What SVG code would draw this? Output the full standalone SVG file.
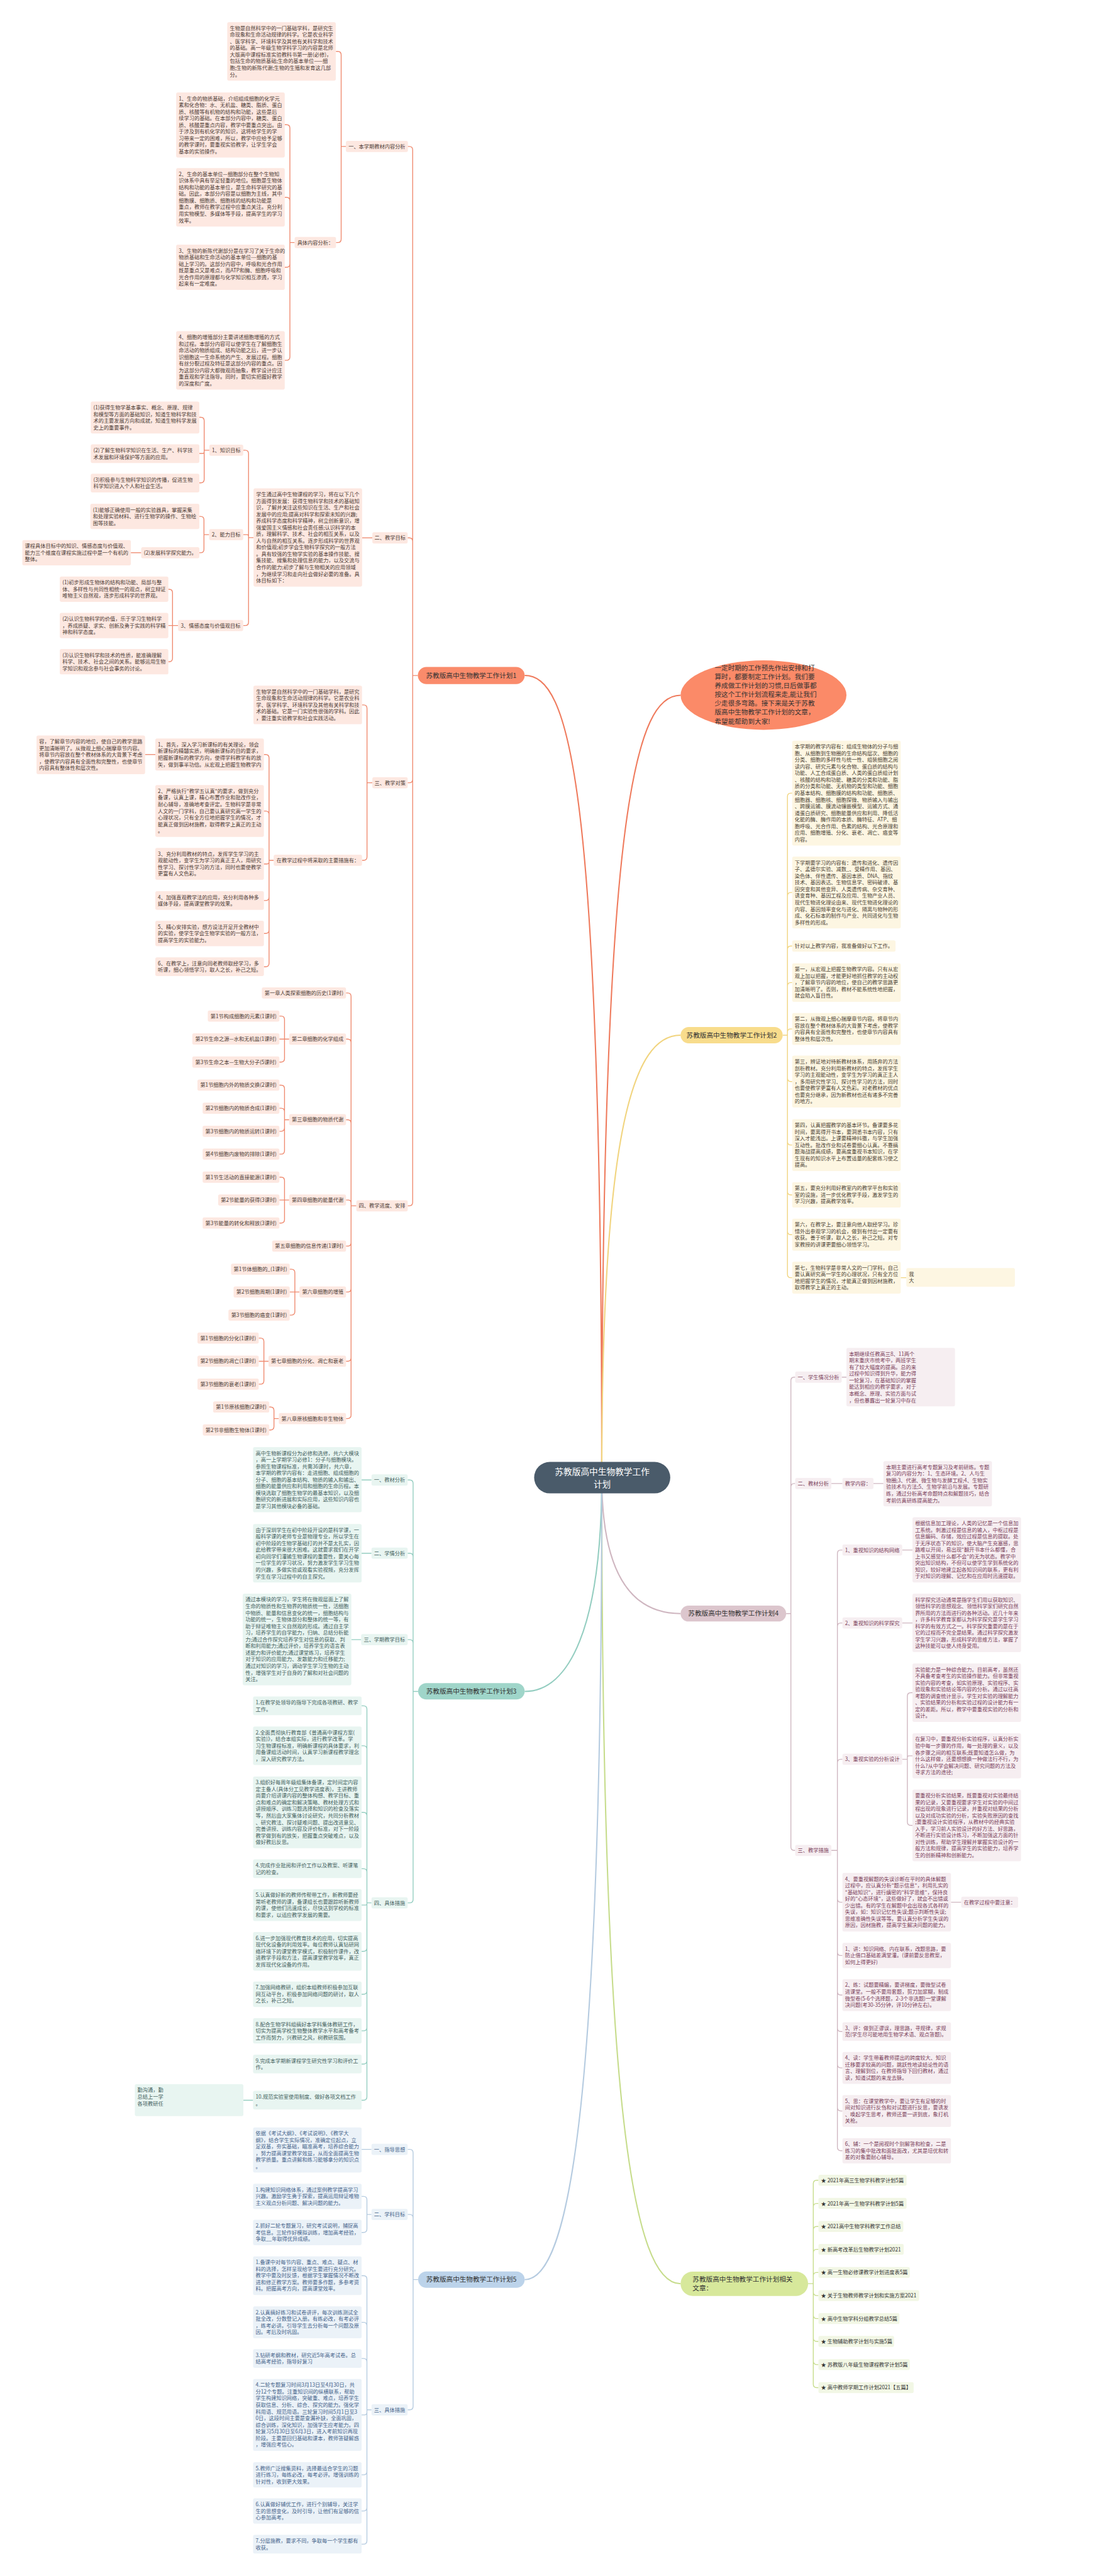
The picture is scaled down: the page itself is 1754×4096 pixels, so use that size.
<svg xmlns="http://www.w3.org/2000/svg" width="1754" height="4096" viewBox="0 0 1754 4096">
<style>
text{font-family:"Noto Sans CJK SC","Noto Sans",sans-serif}
.s{font-size:12px}.m{font-size:15.5px}.c{font-size:20px;fill:#fff}
.mid{text-anchor:middle}
.to{fill:#4b3a34}.ty{fill:#4a4132}.tp{fill:#7a3d59}.tt{fill:#43605d}.tb{fill:#44628a}.tg{fill:#333}.tk{fill:#333}
.bo{fill:#fde8e1}.by{fill:#fdf6e2}.bp{fill:#f6eef1}.bt{fill:#e8f5f1}.bb{fill:#ebf2f8}.bg{fill:#f2f7e5}
.l{fill:none;stroke-width:2}
.lo{stroke:#ef8a6f}.ly{stroke:#f1d47e}.lp{stroke:#cfb6c0}.lt{stroke:#93cdc0}.lb{stroke:#b5cbe0}.lg{stroke:#c6dc8b}
.main{fill:none;stroke-width:3}
</style>
<rect width="1754" height="4096" fill="#fff"/>
<g transform="scale(0.685)">
<g id="connectors">
<path class="main" stroke="#ef7a5c" d="M1397 3430C1397 1800 1320 1568 1218 1568"/>
<path class="main" stroke="#ef7a5c" d="M1397 3430C1397 1850 1480 1614 1580 1614"/>
<path class="main" stroke="#f1d47e" d="M1397 3430C1397 2620 1470 2403 1580 2403"/>
<path class="main" stroke="#cfb6c0" d="M1397 3430C1397 3660 1470 3745.6 1580 3745.6"/>
<path class="main" stroke="#c6dc8b" d="M1397 3430C1397 4900 1470 5301 1580 5301"/>
<path class="main" stroke="#93cdc0" d="M1397 3430C1397 3780 1320 3926.3 1218 3926.3"/>
<path class="main" stroke="#b5cbe0" d="M1397 3430C1397 4900 1320 5291.5 1218 5291.5"/>
<path class="l lo" d="M970 1568H958M958 1568V348Q958 340 950 340H946.5M958 1568V1256.5Q958 1248.5 950 1248.5H946.5M958 1568V1809Q958 1817 950 1817H946.5M958 1568V2791Q958 2799 950 2799H946.5"/>
<path class="l lo" d="M803 340H792M792 340V127.3Q792 119.3 784 119.3H780M792 340V555Q792 563 784 563H780"/>
<path class="l lo" d="M684 563H673M673 563V297.5Q673 289.5 665 289.5H661M673 563V466Q673 458 665 458H661M673 563V612.5Q673 620.5 665 620.5H661M673 563V828.4Q673 836.4 665 836.4H661"/>
<path class="l lo" d="M864.4 1248.5H840.6"/>
<path class="l lo" d="M588.6 1248H577M577 1248V1053Q577 1045 569 1045H564.6M577 1248V1244.5Q577 1241 573.5 1241H564.6M577 1248V1444Q577 1452 569 1452H564.6"/>
<path class="l lo" d="M486 1045H474M474 1045V976.7Q474 968.7 466 968.7H462.7M474 1045V1048.8Q474 1052.5 470.3 1052.5H462.7M474 1045V1112.8Q474 1120.8 466 1120.8H462.7"/>
<path class="l lo" d="M485.5 1241H473.5M473.5 1241V1206.7Q473.5 1198.7 465.5 1198.7H462.7M473.5 1241V1275Q473.5 1283 465.5 1283H462.7"/>
<path class="l lo" d="M327.8 1283H303.8"/>
<path class="l lo" d="M413.5 1452H400.5M400.5 1452V1375.8Q400.5 1367.8 392.5 1367.8H390.8M400.5 1452H390.8M400.5 1452V1528.1Q400.5 1536.1 392.5 1536.1H390.8"/>
<path class="l lo" d="M864.4 1817H852M852 1817V1644.4Q852 1636.4 844 1636.4H840.4M852 1817V1989Q852 1997 844 1997H840.4"/>
<path class="l lo" d="M635.4 1997H624.6M624.6 1997V1759.5Q624.6 1751.5 616.6 1751.5H612.6M624.6 1997V1890.6Q624.6 1882.6 616.6 1882.6H612.6M624.6 1997V2001.2Q624.6 2005.4 620.4 2005.4H612.6M624.6 1997V2082.3Q624.6 2090.3 616.6 2090.3H612.6M624.6 1997V2158.8Q624.6 2166.8 616.6 2166.8H612.6M624.6 1997V2236.1Q624.6 2244.1 616.6 2244.1H612.6"/>
<path class="l lo" d="M360.6 1751.5H336.8"/>
<path class="l lo" d="M827.2 2799H815M815 2799V2313Q815 2305 807 2305H803.3M815 2799V2420Q815 2412 807 2412H803.3M815 2799V2607.2Q815 2599.2 807 2599.2H803.3M815 2799V2792.3Q815 2785.5 808.3 2785.5H803.3M815 2799V2884.6Q815 2892.6 807 2892.6H803.3M815 2799V2991.1Q815 2999.1 807 2999.1H803.3M815 2799V3151.8Q815 3159.8 807 3159.8H803.3M815 2799V3284.8Q815 3292.8 807 3292.8H803.3"/>
<path class="l lo" d="M671.3 2412H660.5M660.5 2412V2366.5Q660.5 2358.5 652.5 2358.5H648.6M660.5 2412H648.6M660.5 2412V2457.3Q660.5 2465.3 652.5 2465.3H648.6"/>
<path class="l lo" d="M671.3 2599.2H660.5M660.5 2599.2V2526.9Q660.5 2518.9 652.5 2518.9H648.6M660.5 2599.2V2580.4Q660.5 2572.4 652.5 2572.4H648.6M660.5 2599.2V2618Q660.5 2626 652.5 2626H648.6M660.5 2599.2V2671Q660.5 2679 652.5 2679H648.6"/>
<path class="l lo" d="M671.3 2785.5H660.5M660.5 2785.5V2740.5Q660.5 2732.5 652.5 2732.5H648.6M660.5 2785.5H648.6M660.5 2785.5V2831Q660.5 2839 652.5 2839H648.6"/>
<path class="l lo" d="M695.3 2999.1H684.5M684.5 2999.1V2954.2Q684.5 2946.2 676.5 2946.2H672.5M684.5 2999.1H672.5M684.5 2999.1V3044.7Q684.5 3052.7 676.5 3052.7H672.5"/>
<path class="l lo" d="M623.3 3159.8H612.6M612.6 3159.8V3114Q612.6 3106 604.6 3106H600.6M612.6 3159.8H600.6M612.6 3159.8V3205Q612.6 3213 604.6 3213H600.6"/>
<path class="l lo" d="M647.3 3292.8H636M636 3292.8V3274Q636 3266 628 3266H625M636 3292.8V3311.3Q636 3319.3 628 3319.3H625"/>
<path class="l lt" d="M970.7 3926.3H959M959 3926.3V3443.4Q959 3435.4 951 3435.4H946.4M959 3926.3V3613.4Q959 3605.4 951 3605.4H946.4M959 3926.3V3814Q959 3806 951 3806H946.4M959 3926.3V4409Q959 4417 951 4417H946.4"/>
<path class="l lt" d="M862.4 3435.4H839.5M862.4 3605.4H839.5M838.4 3806H815.6M587.5 4875.1H565"/>
<path class="l lt" d="M862.4 4417H851.8M851.8 4417V3967.7Q851.8 3959.7 843.8 3959.7H839.5M851.8 4417V4060.4Q851.8 4052.4 843.8 4052.4H839.5M851.8 4417V4215Q851.8 4207 843.8 4207H839.5M851.8 4417V4345.7Q851.8 4337.7 843.8 4337.7H839.5M851.8 4417V4419.5Q851.8 4422 849.3 4422H839.5M851.8 4417V4521.6Q851.8 4529.6 843.8 4529.6H839.5M851.8 4417V4621.2Q851.8 4629.2 843.8 4629.2H839.5M851.8 4417V4706.1Q851.8 4714.1 843.8 4714.1H839.5M851.8 4417V4783.2Q851.8 4791.2 843.8 4791.2H839.5M851.8 4417V4867.1Q851.8 4875.1 843.8 4875.1H839.5"/>
<path class="l lb" d="M970.7 5291.5H959M959 5291.5V4997.3Q959 4989.3 951 4989.3H946.4M959 5291.5V5148.4Q959 5140.4 951 5140.4H946.4M959 5291.5V5585.8Q959 5593.8 951 5593.8H946.4M862.4 4989.3H839.5"/>
<path class="l lb" d="M862.4 5140.4H851.8M851.8 5140.4V5106.3Q851.8 5098.3 843.8 5098.3H839.5M851.8 5140.4V5174.1Q851.8 5182.1 843.8 5182.1H839.5"/>
<path class="l lb" d="M862.4 5593.8H851.8M851.8 5593.8V5290.4Q851.8 5282.4 843.8 5282.4H839.5M851.8 5593.8V5398.7Q851.8 5390.7 843.8 5390.7H839.5M851.8 5593.8V5482.7Q851.8 5474.7 843.8 5474.7H839.5M851.8 5593.8V5599.7Q851.8 5605.6 845.9 5605.6H839.5M851.8 5593.8V5736.8Q851.8 5744.8 843.8 5744.8H839.5M851.8 5593.8V5820.7Q851.8 5828.7 843.8 5828.7H839.5M851.8 5593.8V5897.7Q851.8 5905.7 843.8 5905.7H839.5"/>
<path class="l ly" d="M1817 2403H1828M1828 2403V1849Q1828 1841 1836 1841H1839M1828 2403V2079.8Q1828 2071.8 1836 2071.8H1839M1828 2403V2204Q1828 2196 1836 2196H1839M1828 2403V2288.8Q1828 2280.8 1836 2280.8H1839M1828 2403V2395.8Q1828 2388.5 1835.3 2388.5H1839M1828 2403V2502.5Q1828 2510.5 1836 2510.5H1839M1828 2403V2649.9Q1828 2657.9 1836 2657.9H1839M1828 2403V2765.7Q1828 2773.7 1836 2773.7H1839M1828 2403V2858.1Q1828 2866.1 1836 2866.1H1839M1828 2403V2957.9Q1828 2965.9 1836 2965.9H1839M2091 2965.9H2104"/>
<path class="l lp" d="M1825 3745.6H1836M1836 3745.6V3204.7Q1836 3196.7 1844 3196.7H1846M1836 3745.6V3451.6Q1836 3443.6 1844 3443.6H1846M1836 3745.6V4287.3Q1836 4295.3 1844 4295.3H1846M1954 3196.7H1965M1930 3443.6H1955.7M2027.7 3443.6H2050.8"/>
<path class="l lp" d="M1930 4295.3H1944M1944 4295.3V3606Q1944 3598 1952 3598H1955.7M1944 4295.3V3775.4Q1944 3767.4 1952 3767.4H1955.7M1944 4295.3V4091.7Q1944 4083.7 1952 4083.7H1955.7M1944 4295.3V4407.5Q1944 4415.5 1952 4415.5H1955.7M1944 4295.3V4531.3Q1944 4539.3 1952 4539.3H1955.7M1944 4295.3V4623.1Q1944 4631.1 1952 4631.1H1955.7M1944 4295.3V4707.7Q1944 4715.7 1952 4715.7H1955.7M1944 4295.3V4792.1Q1944 4800.1 1952 4800.1H1955.7M1944 4295.3V4892.1Q1944 4900.1 1952 4900.1H1955.7M1944 4295.3V4984.4Q1944 4992.4 1952 4992.4H1955.7"/>
<path class="l lp" d="M2094.4 3598H2118.3M2094.4 3767.4H2118.3M2094.4 4083.7H2106.4M2106.4 4083.7V3937.2Q2106.4 3929.2 2114.4 3929.2H2118.3M2106.4 4083.7V4079.7Q2106.4 4075.7 2110.4 4075.7H2118.3M2106.4 4083.7V4229.3Q2106.4 4237.3 2114.4 4237.3H2118.3M2207.7 4415.5H2231.5"/>
<path class="l lg" d="M1876 5301H1888M1888 5301V5069Q1888 5061 1896 5061H1900M1888 5301V5122.7Q1888 5114.7 1896 5114.7H1900M1888 5301V5176.3Q1888 5168.3 1896 5168.3H1900M1888 5301V5229.4Q1888 5221.4 1896 5221.4H1900M1888 5301V5283Q1888 5275 1896 5275H1900M1888 5301V5320.6Q1888 5328.6 1896 5328.6H1900M1888 5301V5374Q1888 5382 1896 5382H1900M1888 5301V5427Q1888 5435 1896 5435H1900M1888 5301V5480.8Q1888 5488.8 1896 5488.8H1900M1888 5301V5534.4Q1888 5542.4 1896 5542.4H1900"/>
</g>

<g id="n-center"><rect x="1240" y="3393.5" width="316" height="73" rx="36.5" fill="#4a5b6a"/><text class="c mid" x="1398" y="3423">苏教版高中生物教学工作</text><text class="c mid" x="1398" y="3452">计划</text></g>

<g id="n-bubble"><ellipse cx="1772.5" cy="1613.5" rx="192.5" ry="80.5" fill="#fb8a68"/><text class="m tk"><tspan x="1659" y="1555.5">一定时期的工作预先作出安排和打</tspan><tspan x="1659" dy="20.7">算时，都要制定工作计划。我们要</tspan><tspan x="1659" dy="20.7">养成做工作计划的习惯,日后做事都</tspan><tspan x="1659" dy="20.7">按这个工作计划流程来走,能让我们</tspan><tspan x="1659" dy="20.7">少走很多弯路。接下来是关于苏教</tspan><tspan x="1659" dy="20.7">版高中生物教学工作计划的文章，</tspan><tspan x="1659" dy="20.7">希望能帮助到大家!</tspan></text></g>

<g id="n-b1"><rect x="970" y="1548" width="248" height="40" rx="20" fill="#fa8b6b"/><text class="m mid tk" x="1094" y="1573.5">苏教版高中生物教学工作计划1</text></g>
<g id="n-b2"><rect x="1580" y="2384" width="237" height="38" rx="19" fill="#f8dc8c"/><text class="m mid tk" x="1698.5" y="2408.5">苏教版高中生物教学工作计划2</text></g>
<g id="n-b3"><rect x="970.7" y="3907" width="247.3" height="38" rx="19" fill="#9fd5c9"/><text class="m mid tk" x="1094.3" y="3931.8">苏教版高中生物教学工作计划3</text></g>
<g id="n-b4"><rect x="1580" y="3727" width="245" height="37" rx="18.5" fill="#dcc6cd"/><text class="m mid tk" x="1702.5" y="3751">苏教版高中生物教学工作计划4</text></g>
<g id="n-b5"><rect x="970.7" y="5272.5" width="247.3" height="38" rx="19" fill="#bcd3ea"/><text class="m mid tk" x="1094.3" y="5297">苏教版高中生物教学工作计划5</text></g>
<g id="n-rel"><rect x="1580" y="5273" width="296" height="56.5" rx="28" fill="#d7e89b"/><text class="m tk"><tspan x="1607.8" y="5296.5">苏教版高中生物教学工作计划相关</tspan><tspan x="1607.8" dy="20">文章：</tspan></text></g>

<!-- branch 1 -->
<g id="n1-1"><rect class="bo" x="803" y="327" width="144" height="26" rx="4"/><text class="s mid to" x="875" y="344.3">一、本学期教材内容分析</text></g>
<g id="n1-1a"><rect class="bo" x="527.5" y="51.4" width="252" height="135.8" rx="4"/><text class="s to"><tspan x="533.5" y="69.7">生物是自然科学中的一门基础学科，是研究生</tspan><tspan x="533.5" dy="15.4">命现象和生命活动规律的科学。它是农业科学</tspan><tspan x="533.5" dy="15.4">、医学科学、环境科学及其他有关科学和技术</tspan><tspan x="533.5" dy="15.4">的基础。高一年级生物学科学习的内容是北师</tspan><tspan x="533.5" dy="15.4">大版高中课程标准实验教科书第一册(必修)，</tspan><tspan x="533.5" dy="15.4">包括生命的物质基础;生命的基本单位——细</tspan><tspan x="533.5" dy="15.4">胞;生物的新陈代谢;生物的生殖和发育这几部</tspan><tspan x="533.5" dy="15.4">分。</tspan></text></g>
<g id="n1-1b"><rect class="bo" x="684" y="550" width="96" height="26" rx="4"/><text class="s mid to" x="732" y="567.3">具体内容分析：</text></g>
<g id="n1-1b1"><rect class="bo" x="409" y="214.6" width="252" height="151.2" rx="4"/><text class="s to"><tspan x="415" y="232.9">1、生命的物质基础，介绍组成细胞的化学元</tspan><tspan x="415" dy="15.4">素和化合物：水、无机盐、糖类、脂质、蛋白</tspan><tspan x="415" dy="15.4">质、核酸等有机物的结构和功能，这些是后</tspan><tspan x="415" dy="15.4">续学习的基础。在本部分内容中，糖类、蛋白</tspan><tspan x="415" dy="15.4">质、核酸是重点内容，教学中要重点突出。由</tspan><tspan x="415" dy="15.4">于涉及到有机化学的知识，这将给学生的学</tspan><tspan x="415" dy="15.4">习带来一定的困难，所以，教学中应给予足够</tspan><tspan x="415" dy="15.4">的教学课时，要重视实验教学，让学生学会</tspan><tspan x="415" dy="15.4">基本的实验操作。</tspan></text></g>
<g id="n1-1b2"><rect class="bo" x="409" y="390" width="252" height="135.8" rx="4"/><text class="s to"><tspan x="415" y="408.3">2、生命的基本单位—细胞部分在整个生物知</tspan><tspan x="415" dy="15.4">识体系中具有举足轻重的地位。细胞是生物体</tspan><tspan x="415" dy="15.4">结构和功能的基本单位，是生命科学研究的基</tspan><tspan x="415" dy="15.4">础。因此，本部分内容是以细胞为主线，其中</tspan><tspan x="415" dy="15.4">细胞膜、细胞质、细胞核的结构和功能是</tspan><tspan x="415" dy="15.4">重点，教师在教学过程中应重点关注。充分利</tspan><tspan x="415" dy="15.4">用实物模型、多媒体等手段，提高学生的学习</tspan><tspan x="415" dy="15.4">效率。</tspan></text></g>
<g id="n1-1b3"><rect class="bo" x="409" y="568" width="252" height="105" rx="4"/><text class="s to"><tspan x="415" y="586.3">3、生物的新陈代谢部分是在学习了关于生命的</tspan><tspan x="415" dy="15.4">物质基础和生命活动的基本单位---细胞的基</tspan><tspan x="415" dy="15.4">础上学习的。这部分内容中，呼吸和光合作用</tspan><tspan x="415" dy="15.4">既是重点又是难点，而ATP和酶、细胞呼吸和</tspan><tspan x="415" dy="15.4">光合作用的原理都与化学知识相互渗透，学习</tspan><tspan x="415" dy="15.4">起来有一定难度。</tspan></text></g>
<g id="n1-1b4"><rect class="bo" x="409" y="768.5" width="252" height="135.8" rx="4"/><text class="s to"><tspan x="415" y="786.8">4、细胞的增殖部分主要讲述细胞增殖的方式</tspan><tspan x="415" dy="15.4">和过程。本部分内容可以使学生在了解细胞生</tspan><tspan x="415" dy="15.4">命活动的物质组成、结构功能之后，进一步认</tspan><tspan x="415" dy="15.4">识细胞这一生命系统的产生、发展过程。细胞</tspan><tspan x="415" dy="15.4">有丝分裂过程及特征是这部分内容的重点。因</tspan><tspan x="415" dy="15.4">为这部分内容大都微观而抽象，教学设计应注</tspan><tspan x="415" dy="15.4">重直观和学法指导。同时，要切实把握好教学</tspan><tspan x="415" dy="15.4">的深度和广度。</tspan></text></g>

<g id="n1-2"><rect class="bo" x="864.4" y="1235.5" width="82" height="26" rx="4"/><text class="s mid to" x="905.4" y="1252.8">二、教学目标</text></g>
<g id="n1-2a"><rect class="bo" x="588.6" y="1133.5" width="252" height="228.2" rx="4"/><text class="s to"><tspan x="594.6" y="1151.8">学生通过高中生物课程的学习，将在以下几个</tspan><tspan x="594.6" dy="15.4">方面得到发展：获得生物科学和技术的基础知</tspan><tspan x="594.6" dy="15.4">识，了解并关注这些知识在生活、生产和社会</tspan><tspan x="594.6" dy="15.4">发展中的应用;提高对科学和探索未知的兴趣;</tspan><tspan x="594.6" dy="15.4">养成科学态度和科学精神，树立创新意识，增</tspan><tspan x="594.6" dy="15.4">强爱国主义情感和社会责任感;认识科学的本</tspan><tspan x="594.6" dy="15.4">质，理解科学、技术、社会的相互关系，以及</tspan><tspan x="594.6" dy="15.4">人与自然的相互关系。逐步形成科学的世界观</tspan><tspan x="594.6" dy="15.4">和价值观;初步学会生物科学探究的一般方法</tspan><tspan x="594.6" dy="15.4">。具有较强的生物学实验的基本操作技能、搜</tspan><tspan x="594.6" dy="15.4">集技能、搜集和处理信息的能力，以及交流与</tspan><tspan x="594.6" dy="15.4">合作的能力;初步了解与生物相关的应用领域</tspan><tspan x="594.6" dy="15.4">，为继续学习和走向社会做好必要的准备。具</tspan><tspan x="594.6" dy="15.4">体目标如下：</tspan></text></g>
<g id="n1-2a1"><rect class="bo" x="486" y="1032" width="78.6" height="26" rx="4"/><text class="s mid to" x="525.3" y="1049.3">1、知识目标</text></g>
<g id="n1-2a1a"><rect class="bo" x="210.7" y="932" width="252" height="74.2" rx="4"/><text class="s to"><tspan x="216.7" y="950.3">(1)获得生物学基本事实、概念、原理、规律</tspan><tspan x="216.7" dy="15.4">和模型等方面的基础知识，知道生物科学和技</tspan><tspan x="216.7" dy="15.4">术的主要发展方向和成就，知道生物科学发展</tspan><tspan x="216.7" dy="15.4">史上的重要事件。</tspan></text></g>
<g id="n1-2a1b"><rect class="bo" x="210.7" y="1031.3" width="252" height="43.4" rx="4"/><text class="s to"><tspan x="216.7" y="1049.6">(2)了解生物科学知识在生活、生产、科学技</tspan><tspan x="216.7" dy="15.4">术发展和环境保护等方面的应用。</tspan></text></g>
<g id="n1-2a1c"><rect class="bo" x="210.7" y="1099.6" width="252" height="43.4" rx="4"/><text class="s to"><tspan x="216.7" y="1117.9">(3)积极参与生物科学知识的传播，促进生物</tspan><tspan x="216.7" dy="15.4">科学知识进入个人和社会生活。</tspan></text></g>
<g id="n1-2a2"><rect class="bo" x="485.5" y="1228" width="79" height="26" rx="4"/><text class="s mid to" x="525" y="1245.3">2、能力目标</text></g>
<g id="n1-2a2a"><rect class="bo" x="209.7" y="1169.3" width="253" height="58.8" rx="4"/><text class="s to"><tspan x="215.7" y="1187.6">(1)能够正确使用一般的实验器具，掌握采集</tspan><tspan x="215.7" dy="15.4">和处理实验材料、进行生物学的操作、生物绘</tspan><tspan x="215.7" dy="15.4">图等技能。</tspan></text></g>
<g id="n1-2a2b"><rect class="bo" x="327.8" y="1270" width="135" height="26" rx="4"/><text class="s mid to" x="395.3" y="1287.3">(2)发展科学探究能力。</text></g>
<g id="n1-2a2b1"><rect class="bo" x="51.8" y="1253.5" width="252" height="58.8" rx="4"/><text class="s to"><tspan x="57.8" y="1271.8">课程具体目标中的知识、情感态度与价值观、</tspan><tspan x="57.8" dy="15.4">能力三个维度在课程实施过程中是一个有机的</tspan><tspan x="57.8" dy="15.4">整体。</tspan></text></g>
<g id="n1-2a3"><rect class="bo" x="413.5" y="1439" width="151" height="26" rx="4"/><text class="s mid to" x="489" y="1456.3">3、情感态度与价值观目标</text></g>
<g id="n1-2a3a"><rect class="bo" x="138.8" y="1338.4" width="252" height="58.8" rx="4"/><text class="s to"><tspan x="144.8" y="1356.7">(1)初步形成生物体的结构和功能、局部与整</tspan><tspan x="144.8" dy="15.4">体、多样性与共同性相统一的观点，树立辩证</tspan><tspan x="144.8" dy="15.4">唯物主义自然观，逐步形成科学的世界观。</tspan></text></g>
<g id="n1-2a3b"><rect class="bo" x="138.8" y="1422.6" width="252" height="58.8" rx="4"/><text class="s to"><tspan x="144.8" y="1440.9">(2)认识生物科学的价值，乐于学习生物科学</tspan><tspan x="144.8" dy="15.4">，养成质疑、求实、创新及勇于实践的科学精</tspan><tspan x="144.8" dy="15.4">神和科学态度。</tspan></text></g>
<g id="n1-2a3c"><rect class="bo" x="138.8" y="1506.7" width="252" height="58.8" rx="4"/><text class="s to"><tspan x="144.8" y="1525">(3)认识生物科学和技术的性质，能准确理解</tspan><tspan x="144.8" dy="15.4">科学、技术、社会之间的关系。能够运用生物</tspan><tspan x="144.8" dy="15.4">学知识和观念参与社会事务的讨论。</tspan></text></g>

<g id="n1-3"><rect class="bo" x="864.4" y="1804" width="82" height="26" rx="4"/><text class="s mid to" x="905.4" y="1821.3">三、教学对策</text></g>
<g id="n1-3a"><rect class="bo" x="588.4" y="1591.6" width="252" height="89.6" rx="4"/><text class="s to"><tspan x="594.4" y="1609.9">生物学是自然科学中的一门基础学科，是研究</tspan><tspan x="594.4" dy="15.4">生命现象和生命活动规律的科学。它是农业科</tspan><tspan x="594.4" dy="15.4">学、医学科学、环境科学及其他有关科学和技</tspan><tspan x="594.4" dy="15.4">术的基础。它是一门实验性很强的学科。因此</tspan><tspan x="594.4" dy="15.4">，要注重实验教学和社会实践活动。</tspan></text></g>
<g id="n1-3b"><rect class="bo" x="635.4" y="1984" width="205" height="26" rx="4"/><text class="s mid to" x="737.9" y="2001.3">在教学过程中将采取的主要措施有：</text></g>
<g id="n1-3b1"><rect class="bo" x="360.6" y="1714.4" width="252" height="74.2" rx="4"/><text class="s to"><tspan x="366.6" y="1732.7">1、首先，深入学习新课标的有关理论，领会</tspan><tspan x="366.6" dy="15.4">新课标的精髓实质，明确新课标的目的要求，</tspan><tspan x="366.6" dy="15.4">把握新课标的教学方向，使得学科教学有的放</tspan><tspan x="366.6" dy="15.4">矢，做到事半功倍。从宏观上把握生物教学内</tspan></text></g>
<g id="n1-3b1a"><rect class="bo" x="84.8" y="1707.4" width="252" height="89.6" rx="4"/><text class="s to"><tspan x="90.8" y="1725.7">容，了解章节内容的地位，使自己的教学思路</tspan><tspan x="90.8" dy="15.4">更加清晰明了。从微观上细心揣摩章节内容。</tspan><tspan x="90.8" dy="15.4">将章节内容放在整个教材体系的大背景下考虑</tspan><tspan x="90.8" dy="15.4">，使教学内容具有全面性和完整性，也使章节</tspan><tspan x="90.8" dy="15.4">内容具有整体性和层次性。</tspan></text></g>
<g id="n1-3b2"><rect class="bo" x="360.6" y="1822.4" width="252" height="120.4" rx="4"/><text class="s to"><tspan x="366.6" y="1840.7">2、严格执行&quot;教学五认真&quot;的要求，做到充分</tspan><tspan x="366.6" dy="15.4">备课，认真上课，精心布置作业和批改作业，</tspan><tspan x="366.6" dy="15.4">耐心辅导，准确地考查评定。生物科学是非常</tspan><tspan x="366.6" dy="15.4">人文的一门学科，自己要认真研究高一学生的</tspan><tspan x="366.6" dy="15.4">心理状况，只有全方位地把握学生的情况，才</tspan><tspan x="366.6" dy="15.4">能真正做到因材施教，取得教学上真正的主动</tspan><tspan x="366.6" dy="15.4">。</tspan></text></g>
<g id="n1-3b3"><rect class="bo" x="360.6" y="1968.3" width="252" height="74.2" rx="4"/><text class="s to"><tspan x="366.6" y="1986.6">3、充分利用教材的特点，发挥学生学习的主</tspan><tspan x="366.6" dy="15.4">观能动性，变学生为学习的真正主人，用研究</tspan><tspan x="366.6" dy="15.4">性学习、探讨性学习的方法，同时也要使教学</tspan><tspan x="366.6" dy="15.4">更富有人文色彩。</tspan></text></g>
<g id="n1-3b4"><rect class="bo" x="360.6" y="2068.6" width="252" height="43.4" rx="4"/><text class="s to"><tspan x="366.6" y="2086.9">4、加强直观教学法的应用，充分利用各种多</tspan><tspan x="366.6" dy="15.4">媒体手段，提高课堂教学的效果。</tspan></text></g>
<g id="n1-3b5"><rect class="bo" x="360.6" y="2137.4" width="252" height="58.8" rx="4"/><text class="s to"><tspan x="366.6" y="2155.7">5、精心安排实验，想方设法开足开全教材中</tspan><tspan x="366.6" dy="15.4">的实验，使学生学会生物学实验的一般方法，</tspan><tspan x="366.6" dy="15.4">提高学生的实验能力。</tspan></text></g>
<g id="n1-3b6"><rect class="bo" x="360.6" y="2222.4" width="252" height="43.4" rx="4"/><text class="s to"><tspan x="366.6" y="2240.7">6、在教学上，注意向同老教师取经学习，多</tspan><tspan x="366.6" dy="15.4">听课，细心领悟学习，取人之长，补己之短。</tspan></text></g>

<g id="n1-4"><rect class="bo" x="827.2" y="2786" width="119.3" height="26" rx="4"/><text class="s mid to" x="886.9" y="2803.3">四、教学进度、安排</text></g>
<g id="ch1"><rect class="bo" x="607.8" y="2292" width="195.5" height="26" rx="4"/><text class="s mid to" x="705.6" y="2309.3">第一章人类探索细胞的历史(1课时)</text></g>
<g id="ch2"><rect class="bo" x="671.3" y="2399" width="132" height="26" rx="4"/><text class="s mid to" x="737.3" y="2416.3">第二章细胞的化学组成</text></g>
<g id="ch3"><rect class="bo" x="671.3" y="2586.2" width="132" height="26" rx="4"/><text class="s mid to" x="737.3" y="2603.5">第三章细胞的物质代谢</text></g>
<g id="ch4"><rect class="bo" x="671.3" y="2772.5" width="132" height="26" rx="4"/><text class="s mid to" x="737.3" y="2789.8">第四章细胞的能量代谢</text></g>
<g id="ch5"><rect class="bo" x="631.8" y="2879.6" width="171.5" height="26" rx="4"/><text class="s mid to" x="717.6" y="2896.9">第五章细胞的信息传递(1课时)</text></g>
<g id="ch6"><rect class="bo" x="695.3" y="2986.1" width="108" height="26" rx="4"/><text class="s mid to" x="749.3" y="3003.4">第六章细胞的增殖</text></g>
<g id="ch7"><rect class="bo" x="623.3" y="3146.8" width="180" height="26" rx="4"/><text class="s mid to" x="713.3" y="3164.1">第七章细胞的分化、凋亡和衰老</text></g>
<g id="ch8"><rect class="bo" x="647.3" y="3279.8" width="156" height="26" rx="4"/><text class="s mid to" x="725.3" y="3297.1">第八章原核细胞和非生物体</text></g>
<g id="s2-1"><rect class="bo" x="482.4" y="2345.5" width="166.2" height="26" rx="4"/><text class="s mid to" x="565.5" y="2362.8">第1节构成细胞的元素(1课时)</text></g>
<g id="s2-2"><rect class="bo" x="446.4" y="2398.7" width="202.2" height="26" rx="4"/><text class="s mid to" x="547.5" y="2416">第2节生命之源—水和无机盐(1课时)</text></g>
<g id="s2-3"><rect class="bo" x="446.4" y="2452.3" width="202.2" height="26" rx="4"/><text class="s mid to" x="547.5" y="2469.6">第3节生命之本—生物大分子(5课时)</text></g>
<g id="s3-1"><rect class="bo" x="458.4" y="2505.9" width="190.2" height="26" rx="4"/><text class="s mid to" x="553.5" y="2523.2">第1节细胞内外的物质交换(2课时)</text></g>
<g id="s3-2"><rect class="bo" x="470.4" y="2559.4" width="178.2" height="26" rx="4"/><text class="s mid to" x="559.5" y="2576.7">第2节细胞内的物质合成(1课时)</text></g>
<g id="s3-3"><rect class="bo" x="470.4" y="2613" width="178.2" height="26" rx="4"/><text class="s mid to" x="559.5" y="2630.3">第3节细胞内的物质运转(1课时)</text></g>
<g id="s3-4"><rect class="bo" x="470.4" y="2666" width="178.2" height="26" rx="4"/><text class="s mid to" x="559.5" y="2683.3">第4节细胞内废物的排除(1课时)</text></g>
<g id="s4-1"><rect class="bo" x="470.4" y="2719.5" width="178.2" height="26" rx="4"/><text class="s mid to" x="559.5" y="2736.8">第1节生活动的直接能源(1课时)</text></g>
<g id="s4-2"><rect class="bo" x="506.4" y="2772.5" width="142.2" height="26" rx="4"/><text class="s mid to" x="577.5" y="2789.8">第2节能量的获得(3课时)</text></g>
<g id="s4-3"><rect class="bo" x="470.4" y="2826" width="178.2" height="26" rx="4"/><text class="s mid to" x="559.5" y="2843.3">第3节能量的转化和释放(3课时)</text></g>
<g id="s6-1"><rect class="bo" x="536.3" y="2933.2" width="136.2" height="26" rx="4"/><text class="s mid to" x="604.4" y="2950.5">第1节体细胞的_(1课时)</text></g>
<g id="s6-2"><rect class="bo" x="542.3" y="2986.1" width="130.2" height="26" rx="4"/><text class="s mid to" x="607.4" y="3003.4">第2节细胞周期(1课时)</text></g>
<g id="s6-3"><rect class="bo" x="530.3" y="3039.7" width="142.2" height="26" rx="4"/><text class="s mid to" x="601.4" y="3057">第3节细胞的癌变(1课时)</text></g>
<g id="s7-1"><rect class="bo" x="458.4" y="3093" width="142.2" height="26" rx="4"/><text class="s mid to" x="529.5" y="3110.3">第1节细胞的分化(1课时)</text></g>
<g id="s7-2"><rect class="bo" x="458.4" y="3146.8" width="142.2" height="26" rx="4"/><text class="s mid to" x="529.5" y="3164.1">第2节细胞的凋亡(1课时)</text></g>
<g id="s7-3"><rect class="bo" x="458.4" y="3200" width="142.2" height="26" rx="4"/><text class="s mid to" x="529.5" y="3217.3">第3节细胞的衰老(1课时)</text></g>
<g id="s8-1"><rect class="bo" x="494.8" y="3253" width="130.2" height="26" rx="4"/><text class="s mid to" x="559.9" y="3270.3">第1节原核细胞(2课时)</text></g>
<g id="s8-2"><rect class="bo" x="470.8" y="3306.3" width="154.2" height="26" rx="4"/><text class="s mid to" x="547.9" y="3323.6">第2节非细胞生物体(1课时)</text></g>

<!-- branch 2 -->
<g id="n2-1"><rect class="by" x="1839" y="1719.2" width="252" height="243.6" rx="4"/><text class="s ty"><tspan x="1845" y="1737.5">本学期的教学内容有：组成生物体的分子与细</tspan><tspan x="1845" dy="15.4">胞、从细胞到生物圈的生命结构层次、细胞的</tspan><tspan x="1845" dy="15.4">分类、细胞的多样性与统一性、组装细胞之阅</tspan><tspan x="1845" dy="15.4">读内容、研究元素与化合物、蛋白质的结构与</tspan><tspan x="1845" dy="15.4">功能、人工合成蛋白质、人类的蛋白质组计划</tspan><tspan x="1845" dy="15.4">、核酸的结构和功能、糖类的分类和功能、脂</tspan><tspan x="1845" dy="15.4">质的分类和功能、无机物的类型和功能、细胞</tspan><tspan x="1845" dy="15.4">的基本结构、细胞膜的结构和功能、细胞质、</tspan><tspan x="1845" dy="15.4">细胞器、细胞核、细胞探微、物质输入与输出</tspan><tspan x="1845" dy="15.4">、跨膜运输、膜流动镶嵌模型、运输方式、通</tspan><tspan x="1845" dy="15.4">道蛋白质研究、细胞能量供应和利用、降低活</tspan><tspan x="1845" dy="15.4">化能的酶、酶作用的本质、酶特征、ATP、细</tspan><tspan x="1845" dy="15.4">胞呼吸、光合作用、色素的结构、光合原理和</tspan><tspan x="1845" dy="15.4">应用、细胞增殖、分化、衰老、凋亡、癌变等</tspan><tspan x="1845" dy="15.4">内容。</tspan></text></g>
<g id="n2-2"><rect class="by" x="1839" y="1988.5" width="252" height="166.6" rx="4"/><text class="s ty"><tspan x="1845" y="2006.8">下学期要学习的内容有：遗传和进化、遗传因</tspan><tspan x="1845" dy="15.4">子、孟德尔实验、减数_、受精作用、基因、</tspan><tspan x="1845" dy="15.4">染色体、伴性遗传、基因本质、DNA、指纹</tspan><tspan x="1845" dy="15.4">技术、基因表达、生物信息学、密码破译、基</tspan><tspan x="1845" dy="15.4">因突变和其他变异、人类遗传病、杂交育种、</tspan><tspan x="1845" dy="15.4">诱变育种、基因工程及应用、生物产业人员、</tspan><tspan x="1845" dy="15.4">现代生物进化理论由来、现代生物进化理论的</tspan><tspan x="1845" dy="15.4">内容、基因频率变化与进化、隔离与物种的形</tspan><tspan x="1845" dy="15.4">成、化石标本的制作与产业、共同进化与生物</tspan><tspan x="1845" dy="15.4">多样性的形成。</tspan></text></g>
<g id="n2-3"><rect class="by" x="1839" y="2183" width="240" height="26" rx="4"/><text class="s ty" x="1845" y="2200.3">针对以上教学内容，我准备做好以下工作。</text></g>
<g id="n2-4"><rect class="by" x="1839" y="2236" width="252" height="89.6" rx="4"/><text class="s ty"><tspan x="1845" y="2254.3">第一，从宏观上把握生物教学内容。只有从宏</tspan><tspan x="1845" dy="15.4">观上加以把握，才能更好地抓住教学的主动权</tspan><tspan x="1845" dy="15.4">，了解章节内容的地位，使自己的教学思路更</tspan><tspan x="1845" dy="15.4">加清晰明了。否则，教材不能系统性地把握，</tspan><tspan x="1845" dy="15.4">就会陷入盲目性。</tspan></text></g>
<g id="n2-5"><rect class="by" x="1839" y="2351.4" width="252" height="74.2" rx="4"/><text class="s ty"><tspan x="1845" y="2369.7">第二，从微观上细心揣摩章节内容。将章节内</tspan><tspan x="1845" dy="15.4">容放在整个教材体系的大背景下考虑，使教学</tspan><tspan x="1845" dy="15.4">内容具有全面性和完整性，也使章节内容具有</tspan><tspan x="1845" dy="15.4">整体性和层次性。</tspan></text></g>
<g id="n2-6"><rect class="by" x="1839" y="2450.3" width="252" height="120.4" rx="4"/><text class="s ty"><tspan x="1845" y="2468.6">第三，辨证地对待新教材体系，用扬弃的方法</tspan><tspan x="1845" dy="15.4">剖析教材。充分利用新教材的特点，发挥学生</tspan><tspan x="1845" dy="15.4">学习的主观能动性，变学生为学习的真正主人</tspan><tspan x="1845" dy="15.4">，多用研究性学习、探讨性学习的方法，同时</tspan><tspan x="1845" dy="15.4">也要使教学更富有人文色彩。对老教材的优点</tspan><tspan x="1845" dy="15.4">也要充分继承，因为新教材也还有诸多不完善</tspan><tspan x="1845" dy="15.4">的地方。</tspan></text></g>
<g id="n2-7"><rect class="by" x="1839" y="2597.7" width="252" height="120.4" rx="4"/><text class="s ty"><tspan x="1845" y="2616">第四，认真把握教学的基本环节。备课要多花</tspan><tspan x="1845" dy="15.4">时间，要离得开书本，要洞悉书本内容，只有</tspan><tspan x="1845" dy="15.4">深入才能浅出。上课要精神抖擞，与学生加强</tspan><tspan x="1845" dy="15.4">互动性。批改作业和试卷要细心认真。不靠搞</tspan><tspan x="1845" dy="15.4">题海战提高成绩，要高度重视书本知识，在学</tspan><tspan x="1845" dy="15.4">生现有的知识水平上布置适量的配套练习使之</tspan><tspan x="1845" dy="15.4">提高。</tspan></text></g>
<g id="n2-8"><rect class="by" x="1839" y="2744.3" width="252" height="58.8" rx="4"/><text class="s ty"><tspan x="1845" y="2762.6">第五，要充分利用好教室内的教学平台和实验</tspan><tspan x="1845" dy="15.4">室的设施，进一步优化教学手段，激发学生的</tspan><tspan x="1845" dy="15.4">学习兴趣，提高教学效率。</tspan></text></g>
<g id="n2-9"><rect class="by" x="1839" y="2829" width="252" height="74.2" rx="4"/><text class="s ty"><tspan x="1845" y="2847.3">第六，在教学上，要注意向他人取经学习。珍</tspan><tspan x="1845" dy="15.4">惜外出参观学习的机会，做到有付出一定要有</tspan><tspan x="1845" dy="15.4">收获。善于听课，取人之长，补己之短。对专</tspan><tspan x="1845" dy="15.4">家教授的讲课更要细心领悟学习。</tspan></text></g>
<g id="n2-10"><rect class="by" x="1839" y="2928.8" width="252" height="74.2" rx="4"/><text class="s ty"><tspan x="1845" y="2947.1">第七，生物科学是非常人文的一门学科，自己</tspan><tspan x="1845" dy="15.4">要认真研究高一学生的心理状况，只有全方位</tspan><tspan x="1845" dy="15.4">地把握学生的情况，才能真正做到因材施教，</tspan><tspan x="1845" dy="15.4">取得教学上真正的主动。</tspan></text></g>
<g id="n2-10a"><rect class="by" x="2104" y="2943.5" width="252" height="43.4" rx="4"/><text class="s ty"><tspan x="2110" y="2961.8">我</tspan><tspan x="2110" dy="15.4">大</tspan></text></g>

<!-- branch 4 -->
<g id="n4-1"><rect class="bp" x="1846" y="3183.7" width="108" height="26" rx="4"/><text class="s mid tp" x="1900" y="3201">一、学生情况分析</text></g>
<g id="n4-1a"><rect class="bp" x="1965" y="3128.7" width="252" height="135.8" rx="4"/><text class="s tp"><tspan x="1971" y="3147">本期继续任教高三8、11两个</tspan><tspan x="1971" dy="15.4">期末重庆市统考中，两班学生</tspan><tspan x="1971" dy="15.4">有了较大幅度的提高。总的来</tspan><tspan x="1971" dy="15.4">过程中知识得到升华，能力得</tspan><tspan x="1971" dy="15.4">一轮复习，在基础知识的掌握</tspan><tspan x="1971" dy="15.4">能达到相应的教学要求，对于</tspan><tspan x="1971" dy="15.4">本概念、原理、实验方面与试</tspan><tspan x="1971" dy="15.4">，但也暴露出一轮复习中存在</tspan></text></g>
<g id="n4-2"><rect class="bp" x="1846" y="3430.6" width="84" height="26" rx="4"/><text class="s mid tp" x="1888" y="3447.9">二、教材分析</text></g>
<g id="n4-2a"><rect class="bp" x="1955.7" y="3430.6" width="72" height="26" rx="4"/><text class="s mid tp" x="1991.7" y="3447.9">教学内容：</text></g>
<g id="n4-2a1"><rect class="bp" x="2050.8" y="3391.7" width="252" height="105" rx="4"/><text class="s tp"><tspan x="2056.8" y="3410">本期主要进行高考专题复习及考前研练。专题</tspan><tspan x="2056.8" dy="15.4">复习的内容分为：1、生态环境。2、人与生</tspan><tspan x="2056.8" dy="15.4">物圈;3、代谢、微生物与发酵工程;4、生物实</tspan><tspan x="2056.8" dy="15.4">验技术与方法;5、生物学前沿与发展。专题研</tspan><tspan x="2056.8" dy="15.4">练，通过分析高考命题特点和解题技巧，结合</tspan><tspan x="2056.8" dy="15.4">考前仿真研练提高能力。</tspan></text></g>
<g id="n4-3"><rect class="bp" x="1846" y="4282.3" width="84" height="26" rx="4"/><text class="s mid tp" x="1888" y="4299.6">三、教学措施</text></g>
<g id="n4-3a"><rect class="bp" x="1955.7" y="3585" width="138.7" height="26" rx="4"/><text class="s mid tp" x="2025" y="3602.3">1、重视知识的结构网络</text></g>
<g id="n4-3a1"><rect class="bp" x="2118.3" y="3522" width="252" height="151.2" rx="4"/><text class="s tp"><tspan x="2124.3" y="3540.3">根据信息加工理论，人类的记忆是一个信息加</tspan><tspan x="2124.3" dy="15.4">工系统。刺激过程是信息的输入，中枢过程是</tspan><tspan x="2124.3" dy="15.4">信息编码、存储，效应过程是信息的提取。处</tspan><tspan x="2124.3" dy="15.4">于无序状态下的知识，使大脑产生充塞感，思</tspan><tspan x="2124.3" dy="15.4">路难以开阔，易出现&quot;翻开书本什么都懂，合</tspan><tspan x="2124.3" dy="15.4">上书又感觉什么都不会&quot;的无为状态。教学中</tspan><tspan x="2124.3" dy="15.4">突出知识结构，不但可以使学生学到系统化的</tspan><tspan x="2124.3" dy="15.4">知识，较好地建立起各知识间的联系，更有利</tspan><tspan x="2124.3" dy="15.4">于对知识的理解、记忆和在应用时迅速提取。</tspan></text></g>
<g id="n4-3b"><rect class="bp" x="1955.7" y="3754.4" width="138.7" height="26" rx="4"/><text class="s mid tp" x="2025" y="3771.7">2、重视知识的科学探究</text></g>
<g id="n4-3b1"><rect class="bp" x="2118.3" y="3699.4" width="252" height="135.8" rx="4"/><text class="s tp"><tspan x="2124.3" y="3717.7">科学探究活动通常是指学生们用以获取知识、</tspan><tspan x="2124.3" dy="15.4">领悟科学的思想观念、领悟科学家们研究自然</tspan><tspan x="2124.3" dy="15.4">界所用的方法而进行的各种活动。近几十年来</tspan><tspan x="2124.3" dy="15.4">，许多科学教育家都认为科学探究是学生学习</tspan><tspan x="2124.3" dy="15.4">科学的有效方式之一。科学探究重要的是在于</tspan><tspan x="2124.3" dy="15.4">它的过程而不完全是结果。通过科学探究激发</tspan><tspan x="2124.3" dy="15.4">学生学习兴趣，形成科学的思维方法，掌握了</tspan><tspan x="2124.3" dy="15.4">这种技能可以使人终身受用。</tspan></text></g>
<g id="n4-3c"><rect class="bp" x="1955.7" y="4070.7" width="138.7" height="26" rx="4"/><text class="s mid tp" x="2025" y="4088">3、重视实验的分析设计</text></g>
<g id="n4-3c1"><rect class="bp" x="2118.3" y="3861.3" width="252" height="135.8" rx="4"/><text class="s tp"><tspan x="2124.3" y="3879.6">实验能力是一种综合能力。目前高考，虽然还</tspan><tspan x="2124.3" dy="15.4">不具备考查考生的实验操作能力。但非常重视</tspan><tspan x="2124.3" dy="15.4">实验内容的考查，如实验原理、实验程序、实</tspan><tspan x="2124.3" dy="15.4">验现象和实验结论等内容的分析。通过以往高</tspan><tspan x="2124.3" dy="15.4">考题的调查统计显示，学生对实验的理解能力</tspan><tspan x="2124.3" dy="15.4">、实验结果的分析和实验过程的设计能力有一</tspan><tspan x="2124.3" dy="15.4">定的差距。所以，教学中要重视实验的分析和</tspan><tspan x="2124.3" dy="15.4">设计。</tspan></text></g>
<g id="n4-3c2"><rect class="bp" x="2118.3" y="4023.2" width="252" height="105" rx="4"/><text class="s tp"><tspan x="2124.3" y="4041.5">在复习中，要重视分析实验程序，认真分析实</tspan><tspan x="2124.3" dy="15.4">验中每一步骤的作用，每一处理的意义，以及</tspan><tspan x="2124.3" dy="15.4">各步骤之间的相互联系;既要知道怎么做，为</tspan><tspan x="2124.3" dy="15.4">什么这样做，还要想想换一种做法行不行，为</tspan><tspan x="2124.3" dy="15.4">什么?从中学会解决问题、研究问题的方法及</tspan><tspan x="2124.3" dy="15.4">寻求方法的途径;</tspan></text></g>
<g id="n4-3c3"><rect class="bp" x="2118.3" y="4154" width="252" height="166.6" rx="4"/><text class="s tp"><tspan x="2124.3" y="4172.3">要重视分析实验结果，既要重视对实验最终结</tspan><tspan x="2124.3" dy="15.4">果的记录，又要重视要求学生对实验的中间过</tspan><tspan x="2124.3" dy="15.4">程出现的现象进行记录，并重视对结果的分析</tspan><tspan x="2124.3" dy="15.4">以及对成功实验的分析，实验失败原因的查找</tspan><tspan x="2124.3" dy="15.4">;要重视设计实验程序，从教材中的经典实验</tspan><tspan x="2124.3" dy="15.4">入手，学习前人实验设计的好方法、好思路，</tspan><tspan x="2124.3" dy="15.4">不断进行实验设计练习，不断加强这方面的针</tspan><tspan x="2124.3" dy="15.4">对性训练，帮助学生理解并掌握实验设计的一</tspan><tspan x="2124.3" dy="15.4">般方法和规律，提高学生的实验能力，培养学</tspan><tspan x="2124.3" dy="15.4">生的创新精神和创新能力。</tspan></text></g>
<g id="n4-3d"><rect class="bp" x="1955.7" y="4347.6" width="252" height="135.8" rx="4"/><text class="s tp"><tspan x="1961.7" y="4365.9">4、要重视解题的失误诊断在平时的具体解题</tspan><tspan x="1961.7" dy="15.4">过程中，应认真分析&quot;题示信息&quot;，利用扎实的</tspan><tspan x="1961.7" dy="15.4">&quot;基础知识&quot;，进行缜密的&quot;科学思维&quot;，保持良</tspan><tspan x="1961.7" dy="15.4">好的&quot;心态环境&quot;，这些做好了，就会不出错或</tspan><tspan x="1961.7" dy="15.4">少出错。有的学生在解题中会出现各式各样的</tspan><tspan x="1961.7" dy="15.4">失误，如：知识记忆性失误;题示判断性失误;</tspan><tspan x="1961.7" dy="15.4">思维准确性失误等等。要认真分析学生失误的</tspan><tspan x="1961.7" dy="15.4">原因，因材施教，提高学生解决问题的能力。</tspan></text></g>
<g id="n4-3d1"><rect class="bp" x="2231.5" y="4402.5" width="132" height="26" rx="4"/><text class="s mid tp" x="2297.5" y="4419.8">在教学过程中要注意：</text></g>
<g id="n4-3e"><rect class="bp" x="1955.7" y="4509.9" width="252" height="58.8" rx="4"/><text class="s tp"><tspan x="1961.7" y="4528.2">1、讲：知识网络、内在联系，改题思路，要</tspan><tspan x="1961.7" dy="15.4">防止借口基础差满堂灌。(课前要反思教案，</tspan><tspan x="1961.7" dy="15.4">如何上得更好)</tspan></text></g>
<g id="n4-3f"><rect class="bp" x="1955.7" y="4594" width="252" height="74.2" rx="4"/><text class="s tp"><tspan x="1961.7" y="4612.3">2、练：试题要精编，要讲梯度，要微型试卷</tspan><tspan x="1961.7" dy="15.4">进课堂。一般不要用套题，剪刀加浆糊，制成</tspan><tspan x="1961.7" dy="15.4">微型卷(5-6个选择题，2-3个非选题)一堂课解</tspan><tspan x="1961.7" dy="15.4">决问题(考30-35分钟，评10分钟左右)。</tspan></text></g>
<g id="n4-3g"><rect class="bp" x="1955.7" y="4694" width="252" height="43.4" rx="4"/><text class="s tp"><tspan x="1961.7" y="4712.3">3、评：做到正谬误，理思路，寻规律，求规</tspan><tspan x="1961.7" dy="15.4">范(学生尽可能地用生物学术语、观点答题)。</tspan></text></g>
<g id="n4-3h"><rect class="bp" x="1955.7" y="4763" width="252" height="74.2" rx="4"/><text class="s tp"><tspan x="1961.7" y="4781.3">4、读：学生带着教师提出的跨度较大、知识</tspan><tspan x="1961.7" dy="15.4">迁移要求较高的问题，跳跃性地读结论性的语</tspan><tspan x="1961.7" dy="15.4">言、理解到位，在教师指导下回归教材，通过</tspan><tspan x="1961.7" dy="15.4">读，知道试题的来龙去脉。</tspan></text></g>
<g id="n4-3i"><rect class="bp" x="1955.7" y="4863" width="252" height="74.2" rx="4"/><text class="s tp"><tspan x="1961.7" y="4881.3">5、思：在课堂教学中，要让学生有足够的时</tspan><tspan x="1961.7" dy="15.4">间对知识进行反刍和对试题进行反思，要诱发</tspan><tspan x="1961.7" dy="15.4">、唤起学生思考，教师还要一讲到底，象打机</tspan><tspan x="1961.7" dy="15.4">关枪。</tspan></text></g>
<g id="n4-3j"><rect class="bp" x="1955.7" y="4963" width="252" height="58.8" rx="4"/><text class="s tp"><tspan x="1961.7" y="4981.3">6、辅：一个是阅视时个别解答和检查，二是</tspan><tspan x="1961.7" dy="15.4">练习的集中批改和面批面改，尤其是培优和转</tspan><tspan x="1961.7" dy="15.4">差的对象要耐心辅导。</tspan></text></g>

<!-- branch 3 -->
<g id="n3-1"><rect class="bt" x="862.4" y="3422.4" width="84" height="26" rx="4"/><text class="s mid tt" x="904.4" y="3439.7">一、教材分析</text></g>
<g id="n3-1a"><rect class="bt" x="587.5" y="3359.2" width="252" height="151.2" rx="4"/><text class="s tt"><tspan x="593.5" y="3377.5">高中生物新课程分为必修和选修，共六大模块</tspan><tspan x="593.5" dy="15.4">，高一上学期学习必修1：分子与细胞模块。</tspan><tspan x="593.5" dy="15.4">参照生物课程标准，共需36课时，共六章，</tspan><tspan x="593.5" dy="15.4">本学期的教学内容有：走进细胞、组成细胞的</tspan><tspan x="593.5" dy="15.4">分子、细胞的基本结构、物质的输入和输出、</tspan><tspan x="593.5" dy="15.4">细胞的能量供应和利用和细胞的生命历程。本</tspan><tspan x="593.5" dy="15.4">模块选取了细胞生物学的最基本知识，以及细</tspan><tspan x="593.5" dy="15.4">胞研究的新进展和实际应用，这些知识内容也</tspan><tspan x="593.5" dy="15.4">是学习其他模块必备的基础。</tspan></text></g>
<g id="n3-2"><rect class="bt" x="862.4" y="3592.4" width="84" height="26" rx="4"/><text class="s mid tt" x="904.4" y="3609.7">二、学情分析</text></g>
<g id="n3-2a"><rect class="bt" x="587.5" y="3537.5" width="252" height="135.8" rx="4"/><text class="s tt"><tspan x="593.5" y="3555.8">由于深圳学生在初中阶段开设的是科学课，一</tspan><tspan x="593.5" dy="15.4">般科学课的老师专业是物理专业，所以学生在</tspan><tspan x="593.5" dy="15.4">初中阶段的生物学基础打的并不是太扎实，因</tspan><tspan x="593.5" dy="15.4">此给教学带来很大困难。这就要求我们在开学</tspan><tspan x="593.5" dy="15.4">初向同学们灌输生物课程的重要性，要关心每</tspan><tspan x="593.5" dy="15.4">一位学生的学习状况，努力激发学生学习生物</tspan><tspan x="593.5" dy="15.4">的兴趣，多做实验或观看实验视频，充分发挥</tspan><tspan x="593.5" dy="15.4">学生在学习过程中的自主探究。</tspan></text></g>
<g id="n3-3"><rect class="bt" x="838.4" y="3793" width="108" height="26" rx="4"/><text class="s mid tt" x="892.4" y="3810.3">三、学期教学目标</text></g>
<g id="n3-3a"><rect class="bt" x="563.6" y="3699.2" width="252" height="212.8" rx="4"/><text class="s tt"><tspan x="569.6" y="3717.5">通过本模块的学习，学生将在微观层面上了解</tspan><tspan x="569.6" dy="15.4">生命的物质性和生物界的物质统一性，活细胞</tspan><tspan x="569.6" dy="15.4">中物质、能量和信息变化的统一，细胞结构与</tspan><tspan x="569.6" dy="15.4">功能的统一，生物体部分和整体的统一等，有</tspan><tspan x="569.6" dy="15.4">助于辩证唯物主义自然观的形成。通过自主学</tspan><tspan x="569.6" dy="15.4">习，培养学生的自学能力，归纳、总结分析能</tspan><tspan x="569.6" dy="15.4">力;通过合作探究培养学生对信息的获取、判</tspan><tspan x="569.6" dy="15.4">断和利用能力;通过评价，培养学生的语言表</tspan><tspan x="569.6" dy="15.4">述能力和评价能力;通过课堂练习，培养学生</tspan><tspan x="569.6" dy="15.4">对于知识的应用能力、发散能力和迁移能力;</tspan><tspan x="569.6" dy="15.4">通过对知识的学习，调动学生学习生物的主动</tspan><tspan x="569.6" dy="15.4">性，增强学生对于自身的了解和对社会问题的</tspan><tspan x="569.6" dy="15.4">关注。</tspan></text></g>
<g id="n3-4"><rect class="bt" x="862.4" y="4404" width="84" height="26" rx="4"/><text class="s mid tt" x="904.4" y="4421.3">四、具体措施</text></g>
<g id="n3-4a"><rect class="bt" x="587.5" y="3938" width="252" height="43.4" rx="4"/><text class="s tt"><tspan x="593.5" y="3956.3">1.在教学处领导的指导下完成各项教研、教学</tspan><tspan x="593.5" dy="15.4">工作。</tspan></text></g>
<g id="n3-4b"><rect class="bt" x="587.5" y="4007.6" width="252" height="89.6" rx="4"/><text class="s tt"><tspan x="593.5" y="4025.9">2.全面贯彻执行教育部《普通高中课程方案(</tspan><tspan x="593.5" dy="15.4">实验)》，结合本组实际，进行教学改革。学</tspan><tspan x="593.5" dy="15.4">习生物课程标准，明确新课程的具体要求，利</tspan><tspan x="593.5" dy="15.4">用备课组活动时间，认真学习新课程教学理念</tspan><tspan x="593.5" dy="15.4">，深入研究教学方法。</tspan></text></g>
<g id="n3-4c"><rect class="bt" x="587.5" y="4123.7" width="252" height="166.6" rx="4"/><text class="s tt"><tspan x="593.5" y="4142">3.组织好每周年级组集体备课，定时间定内容</tspan><tspan x="593.5" dy="15.4">定主备人(具体分工见教学进度表)，主讲教师</tspan><tspan x="593.5" dy="15.4">尚要介绍讲课内容的整体构想、教学目标、重</tspan><tspan x="593.5" dy="15.4">点和难点的确定和解决策略、教材处理方式和</tspan><tspan x="593.5" dy="15.4">讲授顺序、训练习题选择和知识的检查及落实</tspan><tspan x="593.5" dy="15.4">等，然后由大家集体讨论研究，共同分析教材</tspan><tspan x="593.5" dy="15.4">、研究教法、探讨疑难问题、提出改进意见、</tspan><tspan x="593.5" dy="15.4">完善讲授、训练内容及评价标准，对下一阶段</tspan><tspan x="593.5" dy="15.4">教学做到有的放矢，把握重点突破难点，以及</tspan><tspan x="593.5" dy="15.4">做好教后反思。</tspan></text></g>
<g id="n3-4d"><rect class="bt" x="587.5" y="4316" width="252" height="43.4" rx="4"/><text class="s tt"><tspan x="593.5" y="4334.3">4.完成作业批阅和评价工作以及教案、听课笔</tspan><tspan x="593.5" dy="15.4">记的检查。</tspan></text></g>
<g id="n3-4e"><rect class="bt" x="587.5" y="4384.9" width="252" height="74.2" rx="4"/><text class="s tt"><tspan x="593.5" y="4403.2">5.认真做好新的教师传帮带工作，新教师要经</tspan><tspan x="593.5" dy="15.4">常听老教师的课，备课组长也要跟踪听新教师</tspan><tspan x="593.5" dy="15.4">的课，使他们迅速成长，尽快达到学校的标准</tspan><tspan x="593.5" dy="15.4">和要求，以适应教学发展的需要。</tspan></text></g>
<g id="n3-4f"><rect class="bt" x="587.5" y="4484.8" width="252" height="89.6" rx="4"/><text class="s tt"><tspan x="593.5" y="4503.1">6.进一步加强现代教育技术的应用，切实提高</tspan><tspan x="593.5" dy="15.4">现代化设备的利用效率。每位教师认真钻研网</tspan><tspan x="593.5" dy="15.4">络环境下的课堂教学模式，积极制作课件，改</tspan><tspan x="593.5" dy="15.4">进教学手段和方法，提高课堂教学效率，真正</tspan><tspan x="593.5" dy="15.4">发挥现代化设备的作用。</tspan></text></g>
<g id="n3-4g"><rect class="bt" x="587.5" y="4599.8" width="252" height="58.8" rx="4"/><text class="s tt"><tspan x="593.5" y="4618.1">7.加强网络教研，组织本组教师积极参加互联</tspan><tspan x="593.5" dy="15.4">网互动平台，积极参加网络问题的研讨，取人</tspan><tspan x="593.5" dy="15.4">之长，补己之短。</tspan></text></g>
<g id="n3-4h"><rect class="bt" x="587.5" y="4684.7" width="252" height="58.8" rx="4"/><text class="s tt"><tspan x="593.5" y="4703">8.配合生物学科组搞好本学科集体教研工作，</tspan><tspan x="593.5" dy="15.4">切实为提高学校生物整体教学水平和高考备考</tspan><tspan x="593.5" dy="15.4">工作而努力，兴教研之风，树教研氛围。</tspan></text></g>
<g id="n3-4i"><rect class="bt" x="587.5" y="4769.5" width="252" height="43.4" rx="4"/><text class="s tt"><tspan x="593.5" y="4787.8">9.完成本学期新课程学生研究性学习和评价工</tspan><tspan x="593.5" dy="15.4">作。</tspan></text></g>
<g id="n3-4j"><rect class="bt" x="587.5" y="4853.4" width="252" height="43.4" rx="4"/><text class="s tt"><tspan x="593.5" y="4871.7">10.规范实验室使用制度、做好各项文档工作</tspan><tspan x="593.5" dy="15.4">。</tspan></text></g>
<g id="n3-4j1"><rect class="bt" x="313" y="4837.8" width="252" height="74.2" rx="4"/><text class="s tt"><tspan x="319" y="4856.1">勤沟通，勤</tspan><tspan x="319" dy="15.4">总结上一学</tspan><tspan x="319" dy="15.4">各项教研任</tspan></text></g>

<!-- branch 5 -->
<g id="n5-1"><rect class="bb" x="862.4" y="4976.3" width="84" height="26" rx="4"/><text class="s mid tb" x="904.4" y="4993.6">一、指导思想</text></g>
<g id="n5-1a"><rect class="bb" x="587.5" y="4938.2" width="252" height="105" rx="4"/><text class="s tb"><tspan x="593.5" y="4956.5">依据《考试大纲》、《考试说明》、《教学大</tspan><tspan x="593.5" dy="15.4">纲》，结合学生实际情况，准确定位起点，立</tspan><tspan x="593.5" dy="15.4">足双基，夯实基础，瞄准高考，培养综合能力</tspan><tspan x="593.5" dy="15.4">，努力提高课堂教学效益，从而全面提高生物</tspan><tspan x="593.5" dy="15.4">教学质量。重点讲解和练习能够拿分的知识点</tspan><tspan x="593.5" dy="15.4">。</tspan></text></g>
<g id="n5-2"><rect class="bb" x="862.4" y="5127.4" width="84" height="26" rx="4"/><text class="s mid tb" x="904.4" y="5144.7">二、学科目标</text></g>
<g id="n5-2a"><rect class="bb" x="587.5" y="5068.9" width="252" height="58.8" rx="4"/><text class="s tb"><tspan x="593.5" y="5087.2">1.构建知识网络体系，通过案例教学提高学习</tspan><tspan x="593.5" dy="15.4">兴趣。激励学生勇于探索，提高运用辩证唯物</tspan><tspan x="593.5" dy="15.4">主义观点分析问题、解决问题的能力。</tspan></text></g>
<g id="n5-2b"><rect class="bb" x="587.5" y="5152.7" width="252" height="58.8" rx="4"/><text class="s tb"><tspan x="593.5" y="5171">2.抓好二轮专题复习，研究考试说明，捕捉高</tspan><tspan x="593.5" dy="15.4">考信息。三轮作好模拟训练，增加高考经验，</tspan><tspan x="593.5" dy="15.4">争取__年取得优异成绩。</tspan></text></g>
<g id="n5-3"><rect class="bb" x="862.4" y="5580.8" width="84" height="26" rx="4"/><text class="s mid tb" x="904.4" y="5598.1">三、具体措施</text></g>
<g id="n5-3a"><rect class="bb" x="587.5" y="5237.6" width="252" height="89.6" rx="4"/><text class="s tb"><tspan x="593.5" y="5255.9">1.备课中对每节内容、重点、难点、疑点、材</tspan><tspan x="593.5" dy="15.4">料的选择，怎样呈现给学生要进行充分研究。</tspan><tspan x="593.5" dy="15.4">教学中要及时反馈，根据学生掌握情况不断改</tspan><tspan x="593.5" dy="15.4">进和修正教学方案。教师要多作题，多参考资</tspan><tspan x="593.5" dy="15.4">料。把握高考方向，提高课堂效率。</tspan></text></g>
<g id="n5-3b"><rect class="bb" x="587.5" y="5353.6" width="252" height="74.2" rx="4"/><text class="s tb"><tspan x="593.5" y="5371.9">2.认真搞好练习和试卷讲评，每次训练测试全</tspan><tspan x="593.5" dy="15.4">批全改，分数登记入册。有练必改，有考必评</tspan><tspan x="593.5" dy="15.4">，练考必讲。引导学生去分析每一个问题及原</tspan><tspan x="593.5" dy="15.4">因。考后及时巩固。</tspan></text></g>
<g id="n5-3c"><rect class="bb" x="587.5" y="5453" width="252" height="43.4" rx="4"/><text class="s tb"><tspan x="593.5" y="5471.3">3.钻研考纲和教材，研究近5年高考试卷。总</tspan><tspan x="593.5" dy="15.4">结高考经验，指导好复习</tspan></text></g>
<g id="n5-3d"><rect class="bb" x="587.5" y="5522.3" width="252" height="166.6" rx="4"/><text class="s tb"><tspan x="593.5" y="5540.6">4.二轮专题复习时间3月13日至4月30日，共</tspan><tspan x="593.5" dy="15.4">分12个专题。注重知识间的纵横联系，帮助</tspan><tspan x="593.5" dy="15.4">学生构建知识网络，突破重、难点，培养学生</tspan><tspan x="593.5" dy="15.4">获取信息、分析、综合、探究的能力。强化学</tspan><tspan x="593.5" dy="15.4">科用语、规范用语。三轮复习时间5月1日至3</tspan><tspan x="593.5" dy="15.4">0日，这段时间主要是查漏补缺，全面巩固，</tspan><tspan x="593.5" dy="15.4">综合训练，深化知识，加强学生应考能力。四</tspan><tspan x="593.5" dy="15.4">轮复习5月30日至6月3日，进入考前知识再现</tspan><tspan x="593.5" dy="15.4">阶段。主要是回归基础和课本，教师答疑解惑</tspan><tspan x="593.5" dy="15.4">，增强应考信心。</tspan></text></g>
<g id="n5-3e"><rect class="bb" x="587.5" y="5715.4" width="252" height="58.8" rx="4"/><text class="s tb"><tspan x="593.5" y="5733.7">5.教师广泛搜集资料，选择最适合学生的习题</tspan><tspan x="593.5" dy="15.4">进行练习，每练必改，每考必评。增强训练的</tspan><tspan x="593.5" dy="15.4">针对性，收到更大效果。</tspan></text></g>
<g id="n5-3f"><rect class="bb" x="587.5" y="5799.3" width="252" height="58.8" rx="4"/><text class="s tb"><tspan x="593.5" y="5817.6">6.认真做好辅优工作，进行个别辅导，关注学</tspan><tspan x="593.5" dy="15.4">生的思想变化，及时引导，让他们有足够的信</tspan><tspan x="593.5" dy="15.4">心参加高考。</tspan></text></g>
<g id="n5-3g"><rect class="bb" x="587.5" y="5884" width="252" height="43.4" rx="4"/><text class="s tb"><tspan x="593.5" y="5902.3">7.分层施教，要求不同，争取每一个学生都有</tspan><tspan x="593.5" dy="15.4">收获。</tspan></text></g>

<!-- related -->
<g id="r1"><rect class="bg" x="1900" y="5048.3" width="204.6" height="25.4" rx="4"/><text class="s tg" x="1906" y="5065.3">★ 2021年高三生物学科教学计划5篇</text></g>
<g id="r2"><rect class="bg" x="1900" y="5102" width="204.6" height="25.4" rx="4"/><text class="s tg" x="1906" y="5119">★ 2021年高一生物学科教学计划5篇</text></g>
<g id="r3"><rect class="bg" x="1900" y="5155.6" width="197" height="25.4" rx="4"/><text class="s tg" x="1906" y="5172.6">★ 2021高中生物学科教学工作总结</text></g>
<g id="r4"><rect class="bg" x="1900" y="5208.7" width="198" height="25.4" rx="4"/><text class="s tg" x="1906" y="5225.7">★ 新高考改革后生物教学计划2021</text></g>
<g id="r5"><rect class="bg" x="1900" y="5262.3" width="212" height="25.4" rx="4"/><text class="s tg" x="1906" y="5279.3">★ 高一生物必修课教学计划进度表5篇</text></g>
<g id="r6"><rect class="bg" x="1900" y="5315.9" width="233.7" height="25.4" rx="4"/><text class="s tg" x="1906" y="5332.9">★ 关于生物教师教学计划和实施方案2021</text></g>
<g id="r7"><rect class="bg" x="1900" y="5369.3" width="188" height="25.4" rx="4"/><text class="s tg" x="1906" y="5386.3">★ 高中生物学科分组教学总结5篇</text></g>
<g id="r8"><rect class="bg" x="1900" y="5422.3" width="175.6" height="25.4" rx="4"/><text class="s tg" x="1906" y="5439.3">★ 生物辅助教学计划与实施5篇</text></g>
<g id="r9"><rect class="bg" x="1900" y="5476.1" width="212" height="25.4" rx="4"/><text class="s tg" x="1906" y="5493.1">★ 苏教版八年级生物课程教学计划5篇</text></g>
<g id="r10"><rect class="bg" x="1900" y="5529.7" width="221" height="25.4" rx="4"/><text class="s tg" x="1906" y="5546.7">★ 高中教师学期工作计划2021【五篇】</text></g>
</g>
</svg>
